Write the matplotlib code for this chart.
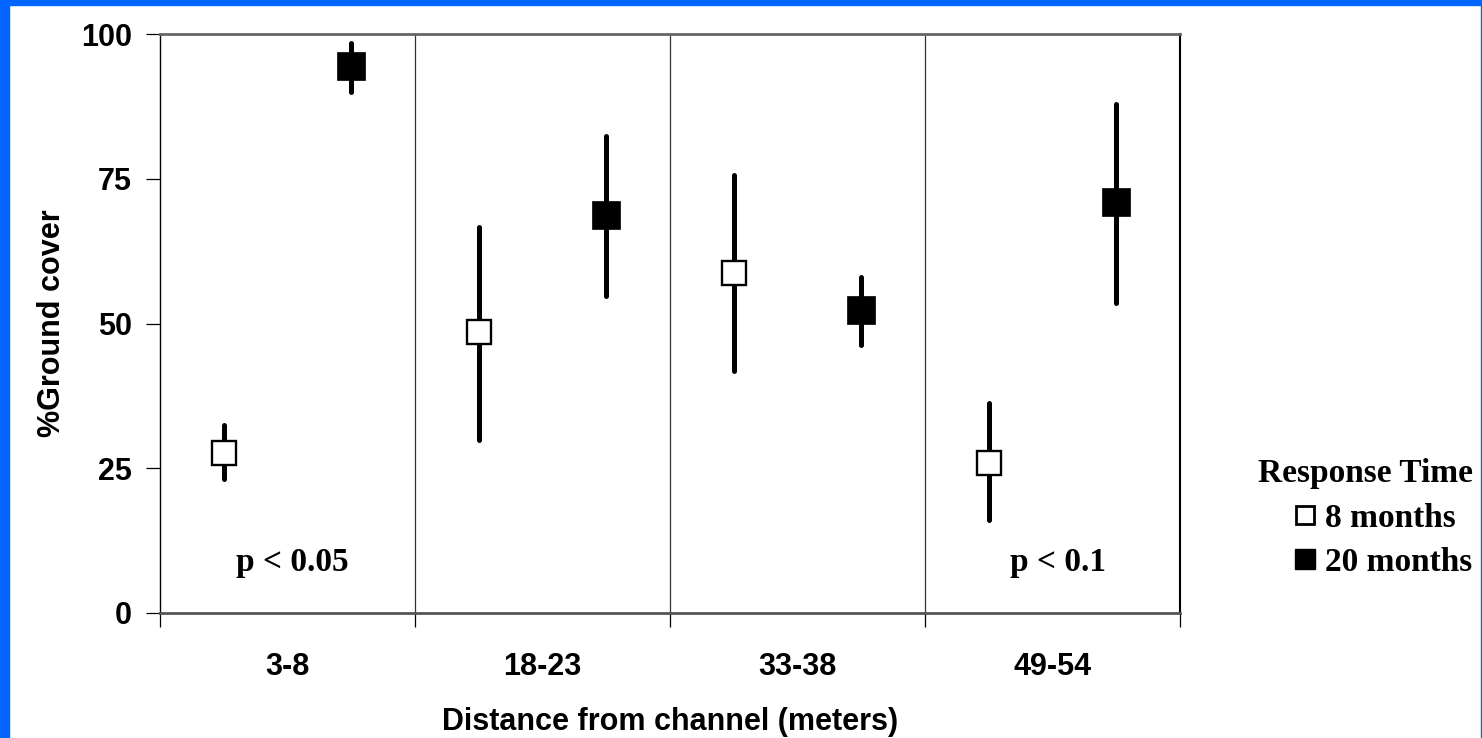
import matplotlib.pyplot as plt
from matplotlib.lines import Line2D
from matplotlib.patches import Rectangle
import numpy as np

# distance classes and ground cover (mean, upper, lower)
categories = ['3-8', '18-23', '33-38', '49-54']
mean_8 = [27.6, 48.6, 58.7, 25.9]
hi_8 = [32.5, 66.7, 75.6, 36.2]
lo_8 = [23.2, 29.9, 41.8, 16.1]
mean_20 = [94.4, 68.8, 52.4, 70.9]
hi_20 = [98.5, 82.4, 58.0, 87.9]
lo_20 = [90.0, 54.8, 46.3, 53.5]
p_labels = {0: 'p < 0.05', 3: 'p < 0.1'}

sans = ['Liberation Sans', 'DejaVu Sans']
serif = ['Liberation Serif', 'DejaVu Serif']

fig = plt.figure(figsize=(14.82, 7.38), dpi=100)
ax = fig.add_axes([160/1482, 125/738, 1020/1482, 579/738])

x = np.arange(len(categories))

def draw(means, hi, lo, offset, face, size, mew):
    m = np.array(means)
    err = [m - np.array(lo), np.array(hi) - m]
    eb = ax.errorbar(x + offset, m, yerr=err, fmt='s', ms=size, mfc=face,
                     mec='black', mew=mew, ecolor='black', elinewidth=3.6,
                     capsize=0, zorder=3)
    eb[2][0].set_capstyle('round')

draw(mean_8, hi_8, lo_8, 0.25, 'white', 17.5, 1.7)
draw(mean_20, hi_20, lo_20, 0.75, 'black', 19.5, 0.5)

# group separators
for b in x[1:]:
    ax.axvline(b, color='#333333', lw=0.9, zorder=1)

for i, txt in p_labels.items():
    ax.text(i + 0.52, 8.8, txt, ha='center', va='center', fontsize=24,
            fontweight='bold', family=serif)

ax.set_xlim(0, 4)
ax.set_ylim(0, 100)
ax.set_yticks([0, 25, 50, 75, 100])
ax.set_xticks(np.arange(5))
ax.set_xticklabels([])
ax.set_xticks(x + 0.5, minor=True)
ax.set_xticklabels(categories, minor=True)
ax.tick_params(axis='x', which='major', direction='out', length=10, width=0.9)
ax.tick_params(axis='x', which='minor', length=0, pad=28)
ax.tick_params(axis='y', direction='out', length=10, width=0.9, pad=10)
for lab in ax.get_xticklabels(minor=True) + ax.get_yticklabels():
    lab.set_fontsize(22)
    lab.set_fontweight('bold')
    lab.set_family(sans)

ax.spines['left'].set_linewidth(1.0)
ax.spines['right'].set_linewidth(1.5)
ax.spines['top'].set_color('#666666')
ax.spines['top'].set_linewidth(2)
ax.spines['bottom'].set_color('#555555')
ax.spines['bottom'].set_linewidth(2)

ax.set_ylabel('%Ground cover', fontsize=22, fontweight='bold', family=sans,
              labelpad=10)
ax.set_xlabel('Distance from channel (meters)', fontsize=22, fontweight='bold',
              family=sans, labelpad=18)

handles = [Line2D([], [], ls='none', marker='s', ms=13, mfc='white',
                  mec='black', mew=2),
           Line2D([], [], ls='none', marker='s', ms=14, mfc='black',
                  mec='black')]
leg = ax.legend(handles, ['8 months', '20 months'], title='Response Time',
                loc='center', bbox_to_anchor=(1365/1482, (738 - 518)/738),
                bbox_transform=fig.transFigure, frameon=False,
                prop={'family': serif, 'weight': 'bold', 'size': 24},
                handlelength=0.6, handletextpad=0.3, labelspacing=0.4,
                alignment='right')
leg.get_title().set_fontsize(24)
leg.get_title().set_fontweight('bold')
leg.get_title().set_family(serif)
leg._legend_box.sep = 10

# blue slide frame
blue = '#0066FF'
fig.patches.append(Rectangle((0, 0), 9/1482, 1, transform=fig.transFigure,
                             color=blue, zorder=0))
fig.patches.append(Rectangle((0, 1 - 4.5/738), 1, 4.5/738,
                             transform=fig.transFigure, color=blue, zorder=0))
fig.patches.append(Rectangle((1 - 1.5/1482, 0), 1.5/1482, 1,
                             transform=fig.transFigure, color=blue, zorder=0))

fig.savefig('out.png', dpi=100)
